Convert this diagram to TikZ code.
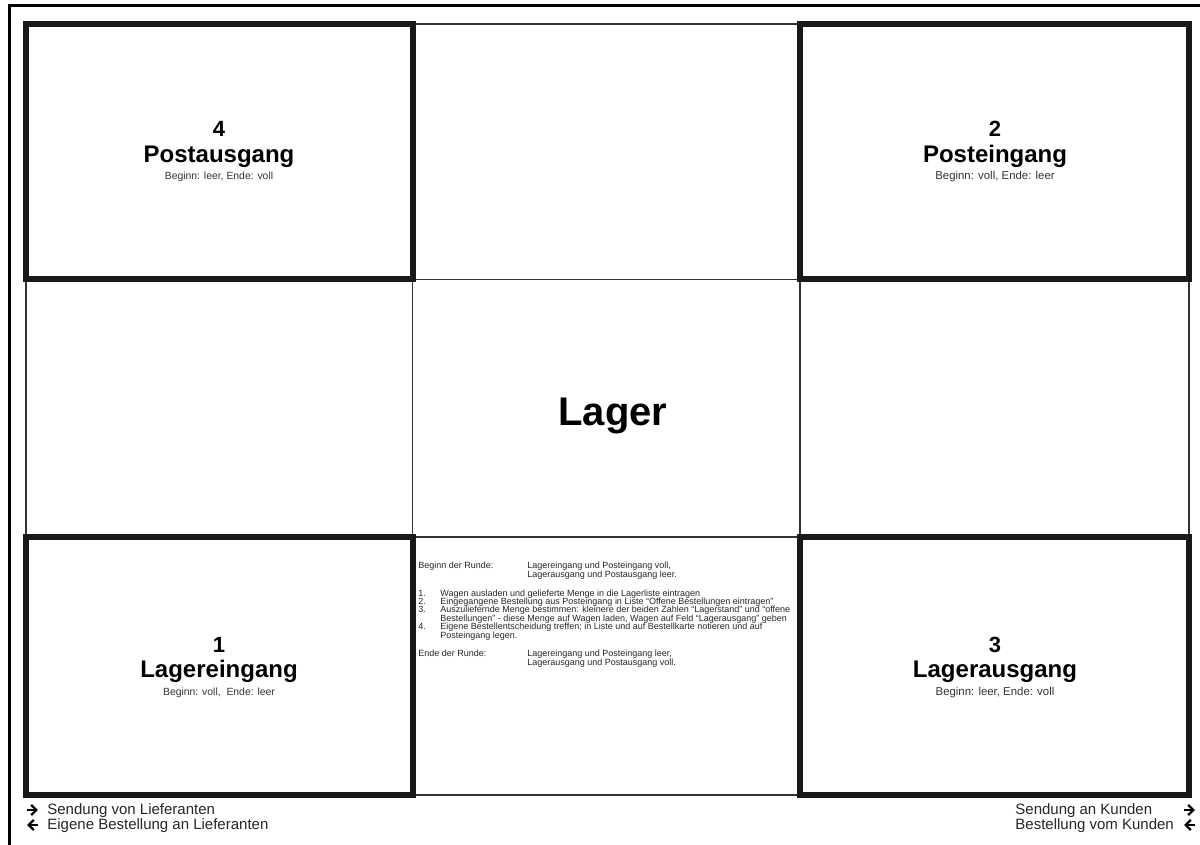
\documentclass[tikz,border=0pt]{standalone}
\usepackage{fontspec}
\setmainfont{Liberation Sans}
\usetikzlibrary{calc,positioning,arrows.meta}

\begin{document}
\begin{tikzpicture}[x=0.5pt,y=-0.5pt,
    frameline/.style={line width=1.5pt},
    thinline/.style={line width=0.7pt,black!80},
    boxline/.style={line width=3pt,black!90},
    legarrow/.style={line width=1.1pt,-{Straight Barb[length=2.6pt,width=5pt]}},
    numtxt/.style={font=\fontsize{11}{12}\bfseries\selectfont,anchor=base,inner sep=0pt},
    nametxt/.style={font=\fontsize{12}{13}\bfseries\selectfont,anchor=base,inner sep=0pt},
    smalltxt/.style={font=\fontsize{5.2}{6}\selectfont,anchor=base,inner sep=0pt,black!80},
    legtxt/.style={font=\fontsize{7.5}{8}\selectfont,anchor=base west,inner sep=0pt,black!85}]
  \useasboundingbox (0,0) rectangle (1200,845);
  %\draw[color=gray,step=50, help lines,opacity=0.3] (0,0) grid (1200,845); %help grid
  % outer frame
  \coordinate (fb) at (9.5,845);
  \coordinate (fc) at (9.5,6);
  \coordinate (fr) at (1200,6);
  \draw[frameline] (fb) -- (fc) -- (fr);
  % grid of the board
  \draw[thinline] (26,24) rectangle (1189,795);
  \draw[thinline] (412.5,24) -- (412.5,795);
  \draw[thinline] (800,24) -- (800,795);
  \draw[thinline] (26,279.5) -- (1189,279.5);
  \draw[thinline] (26,537) -- (1189,537);
  % the four fields
  \draw[boxline] (26,24) rectangle (412.5,279.5);
  \draw[boxline] (800,24) rectangle (1189,279.5);
  \draw[boxline] (26,537) rectangle (412.5,795);
  \draw[boxline] (800,537) rectangle (1189,795);

  \node[numtxt] (num4) at (219,137) {4};
  \node[nametxt] (postaus) at (219,163) {Postausgang};
  \node[smalltxt] (info4) at (219,180) {Beginn: leer, Ende: voll};

  \node[numtxt] (num2) at (995,137) {2};
  \node[nametxt] (postein) at (995,163) {Posteingang};
  \node[smalltxt,font=\fontsize{5.7}{6}\selectfont] (info2) at (995,180) {Beginn: voll, Ende: leer};

  \node[numtxt] (num1) at (219,652) {1};
  \node[nametxt] (lagerein) at (219,677) {Lagereingang};
  \node[smalltxt] (info1) at (219,695) {Beginn: voll,\ \ Ende: leer};

  \node[numtxt] (num3) at (995,652) {3};
  \node[nametxt] (lageraus) at (995,677) {Lagerausgang};
  \node[smalltxt,font=\fontsize{5.7}{6}\selectfont] (info3) at (995,695) {Beginn: leer, Ende: voll};

  \node[font=\fontsize{20}{22}\bfseries\selectfont,anchor=base,inner sep=0pt] (lager) at (613,425) {Lager};

  % rules of the round
  \node[anchor=north west,inner sep=0pt,align=left,black!85,
        font=\fontsize{4.5}{4.2}\selectfont] (regeln) at (418,562)
    {\makebox[54.5pt][l]{Beginn der Runde:}Lagereingang und Posteingang voll,\\
     \hspace*{54.5pt}Lagerausgang und Postausgang leer.\\[5.2pt]
     \makebox[11pt][l]{1.}Wagen ausladen und gelieferte Menge in die Lagerliste eintragen\\
     \makebox[11pt][l]{2.}Eingegangene Bestellung aus Posteingang in Liste ``Offene Bestellungen eintragen''\\
     \makebox[11pt][l]{3.}Auszuliefernde Menge bestimmen: kleinere der beiden Zahlen ``Lagerstand'' und ``offene\\
     \hspace*{11pt}Bestellungen'' - diese Menge auf Wagen laden, Wagen auf Feld ``Lagerausgang'' geben\\
     \makebox[11pt][l]{4.}Eigene Bestellentscheidung treffen; in Liste und auf Bestellkarte notieren und auf\\
     \hspace*{11pt}Posteingang legen.\\[5.2pt]
     \makebox[54.5pt][l]{Ende der Runde:}Lagereingang und Posteingang leer,\\
     \hspace*{54.5pt}Lagerausgang und Postausgang voll.};

  % legend
  \node[legtxt] (leg1) at (47,814) {Sendung von Lieferanten};
  \node[legtxt] (leg2) at (47,829) {Eigene Bestellung an Lieferanten};
  \node[legtxt] (leg3) at (1015,814) {Sendung an Kunden};
  \node[legtxt] (leg4) at (1015,829) {Bestellung vom Kunden};
  \coordinate (a1l) at (27,810);   \coordinate (a1r) at (38,810);
  \coordinate (a2l) at (27,825);   \coordinate (a2r) at (38,825);
  \coordinate (a3l) at (1184,810); \coordinate (a3r) at (1195,810);
  \coordinate (a4l) at (1184,825); \coordinate (a4r) at (1195,825);
  \draw[legarrow] (a1l) -- (a1r);
  \draw[legarrow] (a2r) -- (a2l);
  \draw[legarrow] (a3l) -- (a3r);
  \draw[legarrow] (a4r) -- (a4l);
\end{tikzpicture}
\end{document}
